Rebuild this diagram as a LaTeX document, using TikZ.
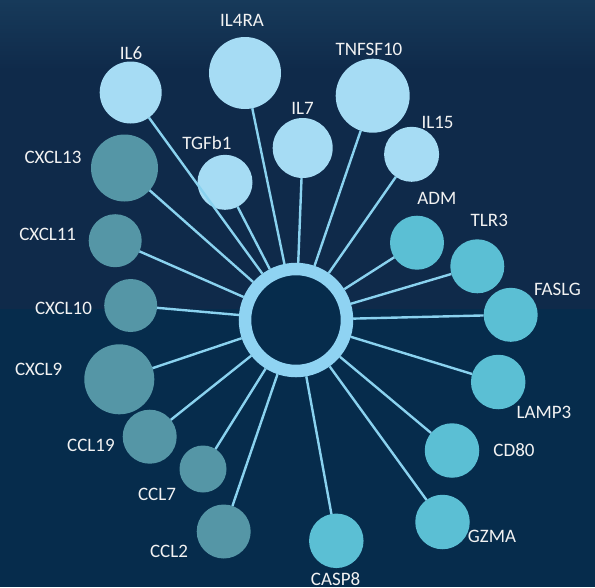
\documentclass[tikz,border=0pt]{standalone}
\usepackage{fontspec}
\setmainfont{Carlito}
\definecolor{bgtop}{HTML}{0F2A4A}
\definecolor{bgtophi}{HTML}{173A5A}
\definecolor{bglow}{HTML}{062C4C}
\definecolor{ringc}{HTML}{8FD3F2}
\definecolor{edgec}{HTML}{8AD2EF}
\definecolor{lightc}{HTML}{A6DCF4}
\definecolor{greyc}{HTML}{5596A6}
\definecolor{tealc}{HTML}{5BBFD4}
\definecolor{txtc}{HTML}{F2F2F2}
\begin{document}
\begin{tikzpicture}[x=1pt,y=-1pt,
  gene/.style={circle,draw=none,inner sep=0pt,outer sep=0pt,minimum size=#1},
  lightgene/.style={gene=#1,fill=lightc},
  greygene/.style={gene=#1,fill=greyc},
  tealgene/.style={gene=#1,fill=tealc},
  lbl/.style={text=txtc,inner sep=0pt,font=\fontsize{19}{21}\selectfont},
  edge/.style={draw=edgec,line width=2.4pt}]
% background: two horizontal bands, a faint glow along the top
\useasboundingbox (0,0) rectangle (595,587);
\fill[bglow] (0,308) rectangle (595,587);
\shade[top color=bgtophi,bottom color=bgtop] (0,0) rectangle (595,70);
\fill[bgtop] (0,70) rectangle (595,308.5);

% hub
\node[circle,draw=ringc,line width=12.5pt,fill=bglow,minimum size=102pt,inner sep=0pt] (hub) at (296,320) {};

% light blue genes
\node[lightgene=62pt] (il6) at (130.7,92.5) {};
\node[lightgene=72pt] (il4ra) at (245,73) {};
\node[lightgene=74pt] (tnfsf10) at (372.7,95.7) {};
\node[lightgene=60pt] (il7) at (302.7,148) {};
\node[lightgene=55pt] (il15) at (411.6,154.3) {};
\node[lightgene=55pt] (tgfb1) at (225,182.3) {};
% grey genes
\node[greygene=67pt] (cxcl13) at (124.5,168) {};
\node[greygene=53pt] (cxcl11) at (115.2,240.7) {};
\node[greygene=53pt] (cxcl10) at (130.7,305.5) {};
\node[greygene=70pt] (cxcl9) at (119.3,379.3) {};
\node[greygene=54pt] (ccl19) at (149.7,436.7) {};
\node[greygene=47pt] (ccl7) at (203,469) {};
\node[greygene=54pt] (ccl2) at (223.7,531.5) {};
% teal genes
\node[tealgene=54.5pt] (casp8) at (336.3,540.8) {};
\node[tealgene=54.5pt] (gzma) at (442.5,522) {};
\node[tealgene=54.5pt] (cd80) at (452,450.5) {};
\node[tealgene=54.5pt] (lamp3) at (498.2,382) {};
\node[tealgene=54pt] (faslg) at (510.7,314.8) {};
\node[tealgene=54pt] (tlr3) at (477.3,266.3) {};
\node[tealgene=54pt] (adm) at (417,242.7) {};

% spokes
\foreach \g in {il6,il4ra,tnfsf10,il7,il15,tgfb1,cxcl13,cxcl11,cxcl10,cxcl9,ccl19,ccl7,ccl2,casp8,gzma,cd80,lamp3,faslg,tlr3,adm}
  \draw[edge] (hub) -- (\g);

% labels
\node[lbl] (il6-l) at (131,53) {IL6};
\node[lbl] (il4ra-l) at (242,20) {IL4RA};
\node[lbl] (tnfsf10-l) at (369,49) {TNFSF10};
\node[lbl] (il7-l) at (302.5,108) {IL7};
\node[lbl] (il15-l) at (437.6,122) {IL15};
\node[lbl] (tgfb1-l) at (207,143) {TGFb1};
\node[lbl] (cxcl13-l) at (53,157) {CXCL13};
\node[lbl] (cxcl11-l) at (47.7,234.3) {CXCL11};
\node[lbl] (cxcl10-l) at (63.5,308.3) {CXCL10};
\node[lbl] (cxcl9-l) at (38.7,369.3) {CXCL9};
\node[lbl] (ccl19-l) at (91,445.7) {CCL19};
\node[lbl] (ccl7-l) at (157,494.3) {CCL7};
\node[lbl] (ccl2-l) at (169,551.7) {CCL2};
\node[lbl] (casp8-l) at (335.6,579.3) {CASP8};
\node[lbl] (gzma-l) at (492,536.7) {GZMA};
\node[lbl] (cd80-l) at (514,450) {CD80};
\node[lbl] (lamp3-l) at (544,412.3) {LAMP3};
\node[lbl] (faslg-l) at (557.5,289) {FASLG};
\node[lbl] (tlr3-l) at (489.3,220) {TLR3};
\node[lbl] (adm-l) at (436.8,198.3) {ADM};
\end{tikzpicture}
\end{document}
